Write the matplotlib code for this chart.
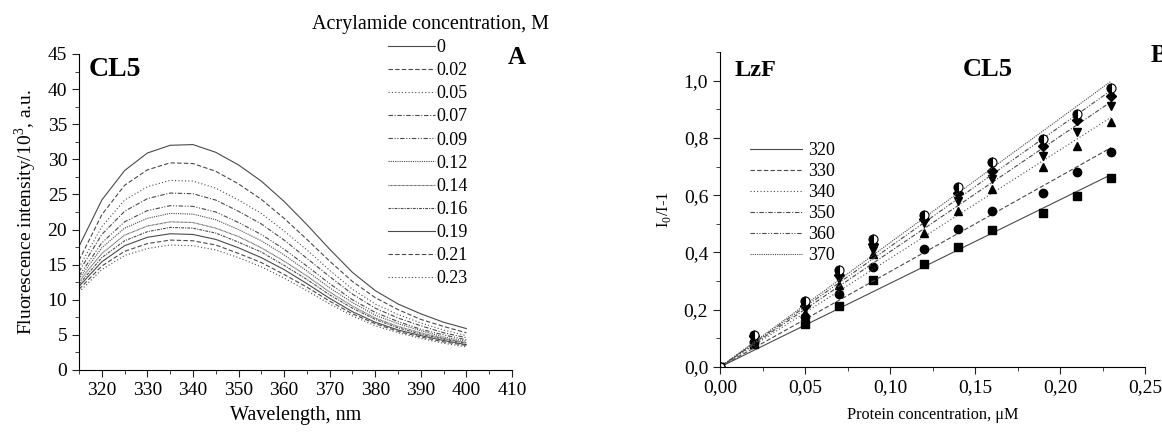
import numpy as np
import matplotlib
matplotlib.use('Agg')
import matplotlib.pyplot as plt
from matplotlib.ticker import MultipleLocator, FuncFormatter

plt.rcParams['font.family'] = ['Liberation Serif', 'DejaVu Serif']
plt.rcParams['mathtext.fontset'] = 'custom'
plt.rcParams['mathtext.rm'] = 'Liberation Serif'

# ---- panel A: emission spectra at several acrylamide concentrations ----
wavelength = [315, 320, 325, 330, 335, 340, 345, 350, 355, 360,
              365, 370, 375, 380, 385, 390, 395, 400]
acryl_labels = ['0', '0.02', '0.05', '0.07', '0.09', '0.12',
                '0.14', '0.16', '0.19', '0.21', '0.23']
spec_0 = [17.6, 24.2, 28.4, 30.9, 32.0, 32.1, 31.0, 29.2, 26.9, 24.0, 20.7, 17.2, 13.9, 11.3, 9.4, 8.0, 6.8, 5.9]
spec_002 = [15.6, 22.1, 26.3, 28.5, 29.5, 29.4, 28.3, 26.5, 24.3, 21.6, 18.6, 15.5, 12.6, 10.3, 8.6, 7.2, 6.2, 5.3]
spec_005 = [14.6, 20.4, 24.2, 26.1, 27.0, 26.9, 25.9, 24.2, 22.3, 19.8, 17.1, 14.2, 11.5, 9.4, 7.9, 6.7, 5.7, 4.9]
spec_007 = [14.0, 19.3, 22.6, 24.4, 25.2, 25.1, 24.2, 22.6, 20.8, 18.5, 15.9, 13.3, 10.8, 8.8, 7.4, 6.3, 5.3, 4.6]
spec_009 = [13.4, 18.1, 21.1, 22.7, 23.4, 23.3, 22.5, 21.0, 19.3, 17.2, 14.8, 12.3, 10.0, 8.2, 6.9, 5.8, 5.0, 4.3]
spec_012 = [13.0, 17.4, 20.2, 21.6, 22.3, 22.2, 21.4, 20.0, 18.4, 16.4, 14.1, 11.7, 9.6, 7.8, 6.6, 5.6, 4.7, 4.1]
spec_014 = [12.6, 16.6, 19.2, 20.5, 21.1, 21.0, 20.2, 19.0, 17.4, 15.5, 13.4, 11.1, 9.1, 7.4, 6.2, 5.3, 4.5, 3.9]
spec_016 = [12.2, 16.0, 18.4, 19.7, 20.3, 20.2, 19.5, 18.2, 16.8, 14.9, 12.9, 10.7, 8.8, 7.2, 6.0, 5.1, 4.4, 3.8]
spec_019 = [11.9, 15.4, 17.7, 18.9, 19.4, 19.3, 18.6, 17.4, 16.0, 14.3, 12.3, 10.2, 8.3, 6.8, 5.7, 4.9, 4.2, 3.6]
spec_021 = [11.5, 14.8, 16.9, 18.0, 18.5, 18.4, 17.8, 16.6, 15.3, 13.6, 11.8, 9.8, 8.0, 6.6, 5.5, 4.7, 4.0, 3.5]
spec_023 = [11.1, 14.3, 16.3, 17.3, 17.8, 17.7, 17.1, 16.0, 14.7, 13.1, 11.3, 9.4, 7.7, 6.3, 5.3, 4.5, 3.8, 3.3]
spectra = [spec_0, spec_002, spec_005, spec_007, spec_009, spec_012,
           spec_014, spec_016, spec_019, spec_021, spec_023]

# ---- panel B: Stern-Volmer style plot ----
protein_conc = [0.0, 0.02, 0.05, 0.07, 0.09, 0.12, 0.14, 0.16, 0.19, 0.21, 0.23]
wl_labels = ['320', '330', '340', '350', '360', '370']
sv_320 = [0.0, 0.081, 0.151, 0.214, 0.305, 0.360, 0.420, 0.477, 0.537, 0.598, 0.659]
sv_330 = [0.0, 0.089, 0.176, 0.254, 0.348, 0.411, 0.481, 0.545, 0.609, 0.680, 0.750]
sv_340 = [0.0, 0.097, 0.190, 0.288, 0.393, 0.469, 0.545, 0.621, 0.697, 0.773, 0.857]
sv_350 = [0.0, 0.104, 0.206, 0.308, 0.410, 0.504, 0.580, 0.658, 0.736, 0.820, 0.913]
sv_360 = [0.0, 0.109, 0.214, 0.323, 0.428, 0.516, 0.607, 0.685, 0.771, 0.861, 0.948]
sv_370 = [0.0, 0.112, 0.232, 0.338, 0.448, 0.532, 0.630, 0.715, 0.796, 0.884, 0.974]
sv_series = [sv_320, sv_330, sv_340, sv_350, sv_360, sv_370]

line_gray = '#4a4a4a'
spec_styles = ['-', (0, (4, 2)), (0, (1, 2)), (0, (4, 1.5, 1, 1.5)),
               (0, (4, 1.5, 1, 1.5, 1, 1.5)), (0, (1, 1)), (0, (0.7, 0.5)),
               (0, (2.5, 1, 1, 1)), '-', (0, (4, 2)), (0, (1, 2))]
sv_styles = ['-', (0, (4, 2)), (0, (1, 2)), (0, (4, 1.5, 1, 1.5)),
             (0, (4, 1.5, 1, 1.5, 1, 1.5)), (0, (1, 1))]
sv_markers = ['s', 'o', '^', 'v', 'D', 'o']

fig = plt.figure(figsize=(11.62, 4.32), dpi=100)
axA = fig.add_axes([79 / 1162, 1 - 370 / 432, (512 - 79) / 1162, 316 / 432])
axB = fig.add_axes([720 / 1162, 1 - 367 / 432, (1145 - 720) / 1162, 315 / 432])

for ax in (axA, axB):
    ax.spines['right'].set_visible(False)
    ax.spines['top'].set_visible(False)
    ax.tick_params(which='both', direction='out', color='#222222')
    ax.tick_params(which='major', length=5)
    ax.tick_params(which='minor', length=3)

# panel A
handles = []
for vals, lab, ls in zip(spectra, acryl_labels, spec_styles):
    h, = axA.plot(wavelength, vals, color=line_gray, lw=0.8, ls=ls, label=lab)
    handles.append(h)
axA.set_xlim(315, 410)
axA.set_ylim(0, 45)
axA.xaxis.set_major_locator(MultipleLocator(10))
axA.xaxis.set_minor_locator(MultipleLocator(5))
axA.yaxis.set_major_locator(MultipleLocator(5))
axA.yaxis.set_minor_locator(MultipleLocator(2.5))
axA.tick_params(labelsize=14)
axA.set_xticks([320, 330, 340, 350, 360, 370, 380, 390, 400, 410])
axA.set_xlabel('Wavelength, nm', fontsize=14.5, labelpad=5)
axA.set_ylabel('Fluorescence intensity/10$^3$, a.u.', fontsize=14, labelpad=6)

fig.legend(handles=handles, loc='upper left',
           bbox_to_anchor=(388 / 1162, 1 - 39 / 432), frameon=False,
           fontsize=13, handlelength=2.6, handletextpad=0.1,
           labelspacing=0.34, borderpad=0, borderaxespad=0)
fig.text(431 / 1162, 1 - 24 / 432, 'Acrylamide concentration, M',
         fontsize=14.5, ha='center', va='center')
fig.text(89 / 1162, 1 - 70 / 432, 'CL5', fontsize=20, fontweight='bold',
         ha='left', va='center')
fig.text(508 / 1162, 1 - 57 / 432, 'A', fontsize=18, fontweight='bold',
         ha='left', va='center')

# panel B
x = np.array(protein_conc)
leg_handles = []
for vals, lab, ls, mk in zip(sv_series, wl_labels, sv_styles, sv_markers):
    y = np.array(vals)
    slope = np.sum(x * y) / np.sum(x * x)
    xx = np.array([0.0, x.max()])
    h, = axB.plot(xx, slope * xx, color=line_gray, lw=0.8, ls=ls, label=lab)
    leg_handles.append(h)
    if lab == '370':
        axB.plot(x, y, ls='none', marker=mk, ms=6.5, color='black',
                 fillstyle='left', markerfacecoloralt='white',
                 markeredgewidth=0.8)
    else:
        axB.plot(x, y, ls='none', marker=mk, ms=6 if mk != 'D' else 5,
                 color='black')

axB.set_xlim(0, 0.25)
axB.set_ylim(0, 1.1)
axB.xaxis.set_major_locator(MultipleLocator(0.05))
axB.xaxis.set_minor_locator(MultipleLocator(0.025))
axB.yaxis.set_major_locator(MultipleLocator(0.2))
axB.yaxis.set_minor_locator(MultipleLocator(0.1))
axB.xaxis.set_major_formatter(FuncFormatter(lambda v, p: f'{v:.2f}'.replace('.', ',')))
axB.yaxis.set_major_formatter(FuncFormatter(lambda v, p: f'{v:.1f}'.replace('.', ',')))
axB.tick_params(labelsize=14)
axB.set_xlabel('Protein concentration, \u03bcM', fontsize=11.7, labelpad=8)
axB.set_ylabel('I$_0$/I-1', fontsize=12, labelpad=8)

fig.legend(handles=leg_handles, loc='upper left',
           bbox_to_anchor=(750 / 1162, 1 - 142 / 432), frameon=False,
           fontsize=13, handlelength=2.9, handletextpad=0.3,
           labelspacing=0.22, borderpad=0, borderaxespad=0)
fig.text(735 / 1162, 1 - 70 / 432, 'LzF', fontsize=17.5, fontweight='bold',
         ha='left', va='center')
fig.text(988 / 1162, 1 - 70 / 432, 'CL5', fontsize=19, fontweight='bold',
         ha='center', va='center')
fig.text(1151 / 1162, 1 - 55 / 432, 'B', fontsize=18, fontweight='bold',
         ha='left', va='center')

fig.savefig('out.png', dpi=100, facecolor='white')
